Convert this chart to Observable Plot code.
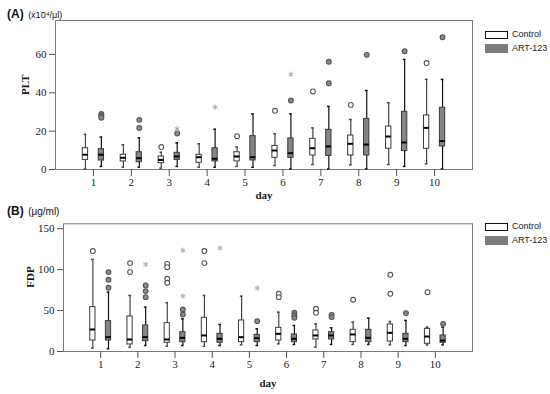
<!DOCTYPE html>
<html>
<head>
<meta charset="utf-8">
<script src="https://cdn.jsdelivr.net/npm/d3@7"></script>
<script src="https://cdn.jsdelivr.net/npm/@observablehq/plot@0.6"></script>
<style>
  html, body { margin: 0; padding: 0; background: #fff; }
  #wrap { position: relative; width: 550px; height: 394px; overflow: hidden; }
  .panel { position: absolute; left: 0; }
  .title { position: absolute; font-family: "Liberation Sans", Arial, sans-serif; color: #111; white-space: nowrap; }
  .title b { font-size: 12px; font-weight: bold; }
  .leg { position: absolute; font-family: "Liberation Sans", Arial, sans-serif; font-size: 9px; color: #222; white-space: nowrap; }
  .sw { position: absolute; box-sizing: border-box; }
</style>
</head>
<body>
<div id="wrap">
  <div class="title" style="left:7px; top:4px;"><b>(A)</b> <span style="font-size:9px;">(x10⁴/μl)</span></div>
  <div class="title" style="left:7px; top:201px;"><b>(B)</b> <span style="font-size:10px;">(μg/ml)</span></div>

  <div class="sw" style="left:485px; top:31px; width:23px; height:8px; border:1.5px solid #111; background:#fff;"></div>
  <div class="leg" style="left:512px; top:29px;">Control</div>
  <div class="sw" style="left:485px; top:44px; width:23px; height:9px; background:#7f7b7b;"></div>
  <div class="leg" style="left:512px; top:43px;">ART-123</div>

  <div class="sw" style="left:485px; top:223px; width:23px; height:8px; border:1.5px solid #111; background:#fff;"></div>
  <div class="leg" style="left:512px; top:221px;">Control</div>
  <div class="sw" style="left:485px; top:236px; width:23px; height:9px; background:#7f7b7b;"></div>
  <div class="leg" style="left:512px; top:235px;">ART-123</div>

  <div id="pA" class="panel" style="top:0px;"></div>
  <div id="pB" class="panel" style="top:205px;"></div>
</div>
<script>
const days = [1,2,3,4,5,6,7,8,9,10];
const groups = ["Control", "ART-123"];

// (A) PLT, x10^4/μl
const pltTicks = [0, 20, 40, 60];
const pltCtrlLow  = [0.3, 1.2, 0.7, 1.2, 1.6, 2.1, 2.6, 2.4, 2.6, 3.0];
const pltCtrlQ1   = [5.0, 4.2, 3.3, 3.5, 4.2, 6.1, 7.3, 7.3, 10.8, 10.8];
const pltCtrlMed  = [7.7, 6.1, 5.0, 6.4, 6.8, 9.9, 11.1, 13.4, 17.2, 21.7];
const pltCtrlQ3   = [11.1, 7.7, 6.8, 7.7, 9.0, 12.3, 16.0, 17.7, 22.4, 28.2];
const pltCtrlHigh = [18.3, 12.9, 9.0, 13.4, 11.7, 18.6, 21.7, 26.1, 34.8, 47.0];
const pltArtLow   = [1.6, 1.2, 1.6, 1.2, 1.2, 0.3, 0.3, 0.3, 1.6, 0.3];
const pltArtQ1    = [4.7, 3.8, 5.0, 4.2, 4.7, 6.1, 7.1, 7.3, 9.6, 12.0];
const pltArtMed   = [7.7, 5.9, 6.8, 5.6, 6.4, 8.5, 12.0, 13.0, 14.1, 14.8];
const pltArtQ3    = [10.6, 9.0, 8.7, 11.1, 17.4, 16.2, 20.7, 26.4, 30.1, 32.2];
const pltArtHigh  = [16.9, 16.5, 13.9, 21.0, 29.0, 29.0, 32.9, 41.2, 57.4, 47.0];
const pltCtrlOut  = [[3,11.7],[5,17.4],[6,30.6],[7,40.7],[8,33.7],[10,55.5]];
const pltArtOut   = [[1,29],[1,28],[1,27],[2,25.9],[2,21.7],[3,18.8],[6,36],[7,56.2],[7,45],[8,59.8],[9,61.7],[10,69]];
const pltArtExt   = [[3,21.2],[4,32.5],[6,49.6]];

// (B) FDP, μg/ml
const fdpTicks = [0, 50, 100, 150];
const fdpCtrlLow  = [4.1, 5.3, 6.5, 6.5, 8.1, 9.4, 5.3, 8.6, 8.1, 8.1];
const fdpCtrlQ1   = [13.4, 8.6, 10.6, 11.4, 11.4, 13.4, 14.7, 11.4, 12.2, 9.4];
const fdpCtrlMed  = [26.9, 14.7, 14.7, 19.6, 17.5, 21.6, 19.6, 20.8, 22.8, 18.3];
const fdpCtrlQ3   = [54.2, 42.8, 34.6, 41.2, 37.9, 28.9, 25.7, 26.5, 33.0, 27.7];
const fdpCtrlHigh = [112.5, 68.5, 59.5, 68.5, 67.6, 48.1, 33.8, 35.9, 36.7, 29.7];
const fdpArtLow   = [3.3, 7.3, 7.3, 7.3, 7.3, 8.6, 8.6, 8.6, 7.3, 8.1];
const fdpArtQ1    = [13.4, 12.6, 11.4, 10.6, 11.4, 11.4, 14.7, 11.4, 11.4, 10.6];
const fdpArtMed   = [17.5, 17.5, 16.7, 15.5, 16.3, 15.5, 19.6, 16.7, 15.5, 13.4];
const fdpArtQ3    = [37.1, 31.8, 23.6, 21.6, 20.4, 20.8, 23.6, 26.5, 21.6, 19.6];
const fdpArtHigh  = [72.5, 54.2, 39.9, 33.0, 27.7, 31.8, 28.9, 40.7, 37.9, 29.7];
const fdpCtrlOut  = [[1,122.7],[2,108],[2,97],[3,107],[3,103],[3,88.8],[3,84],[4,122.7],[4,108],[6,70.5],[6,66.4],[7,52.2],[7,47.3],[8,63.2],[9,93.7],[9,70.5],[10,72.5]];
const fdpArtOut   = [[1,97],[1,87.6],[1,77.8],[2,80.7],[2,73.8],[2,66.4],[3,51.3],[3,45.2],[5,37.1],[6,47.3],[6,44],[6,41.2],[7,44.8],[7,42],[9,46.9],[10,33.8]];
const fdpArtExt   = [[2,106.4],[3,123.5],[3,67.6],[4,126.3],[5,77.4]];

const OFF = 0.21, HW = 0.07, CAP = 0.035;

function rows(low, q1, med, q3, high, off) {
  return days.map((d, i) => ({cx: d + off, low: low[i], q1: q1[i], med: med[i], q3: q3[i], high: high[i]}));
}

function groupMarks(r, out, ext, off, boxFill, dotFill, whisk) {
  const m = [
    Plot.ruleX(r, {x: "cx", y1: "low", y2: "high", stroke: whisk, strokeWidth: 1.2}),
    Plot.ruleY(r, {y: "low", x1: d => d.cx - CAP, x2: d => d.cx + CAP, stroke: whisk, strokeWidth: 1.5}),
    Plot.ruleY(r, {y: "high", x1: d => d.cx - CAP, x2: d => d.cx + CAP, stroke: whisk, strokeWidth: 1.5}),
    Plot.rect(r, {x1: d => d.cx - HW, x2: d => d.cx + HW, y1: "q1", y2: "q3", fill: boxFill, stroke: "#3a3a3a", strokeWidth: 1}),
    Plot.ruleY(r, {y: "med", x1: d => d.cx - HW, x2: d => d.cx + HW, stroke: "#000", strokeWidth: 2}),
    Plot.dot(out, {x: d => d[0] + off, y: d => d[1], r: 2.4, fill: dotFill, stroke: "#555", strokeWidth: 1.1})
  ];
  if (ext) m.push(Plot.dot(ext, {x: d => d[0] + off, y: d => d[1], symbol: "asterisk", r: 2.6, stroke: "#a8a8a8", strokeWidth: 1}));
  return m;
}

function panel(opts) {
  return Plot.plot({
    width: 550,
    height: opts.height,
    marginTop: opts.mt,
    marginBottom: opts.mb,
    marginLeft: opts.ml,
    marginRight: 78,
    style: {fontFamily: "'Liberation Serif', 'Times New Roman', serif", fontSize: "11px", color: "#1a1a1a", background: "transparent", overflow: "visible"},
    x: {domain: [0, 11]},
    y: {domain: opts.ydomain},
    marks: [
      Plot.frame({stroke: "#7a7a7a"}),
      Plot.axisY({ticks: opts.yticks, tickSize: 6, tickPadding: 3, label: null, stroke: "#555", fill: "#1a1a1a", fontSize: 11}),
      Plot.axisX({ticks: days, tickSize: 7, tickPadding: 2, label: null, stroke: "#555", fill: "#1a1a1a", tickFormat: d => String(d), fontSize: 11}),
      ...groupMarks(opts.ctrl, opts.ctrlOut, null, -OFF, "#fff", "#fff", "#444"),
      ...groupMarks(opts.art, opts.artOut, opts.artExt, OFF, "#858585", "#8a8a8a", "#111"),
      Plot.text([opts.ylabel], {text: d => d, frameAnchor: "left", dx: opts.ydx, rotate: -90, fontWeight: "bold", fontSize: 11, fill: "#1a1a1a"}),
      Plot.text(["day"], {text: d => d, frameAnchor: "bottom", dy: opts.xdy, fontWeight: "bold", fontSize: 11, fill: "#1a1a1a"})
    ]
  });
}

document.getElementById("pA").append(panel({
  height: 205, mt: 20, mb: 36, ml: 55, ydomain: [0, 77.7], yticks: pltTicks,
  ctrl: rows(pltCtrlLow, pltCtrlQ1, pltCtrlMed, pltCtrlQ3, pltCtrlHigh, -OFF),
  art: rows(pltArtLow, pltArtQ1, pltArtMed, pltArtQ3, pltArtHigh, OFF),
  ctrlOut: pltCtrlOut, artOut: pltArtOut, artExt: pltArtExt,
  ylabel: "PLT", ydx: -30, xdy: 29
}));

document.getElementById("pB").append(panel({
  height: 189, mt: 18.3, mb: 43, ml: 63, ydomain: [0, 156], yticks: fdpTicks,
  ctrl: rows(fdpCtrlLow, fdpCtrlQ1, fdpCtrlMed, fdpCtrlQ3, fdpCtrlHigh, -OFF),
  art: rows(fdpArtLow, fdpArtQ1, fdpArtMed, fdpArtQ3, fdpArtHigh, OFF),
  ctrlOut: fdpCtrlOut, artOut: fdpArtOut, artExt: fdpArtExt,
  ylabel: "FDP", ydx: -33.5, xdy: 35
}));
</script>
</body>
</html>
